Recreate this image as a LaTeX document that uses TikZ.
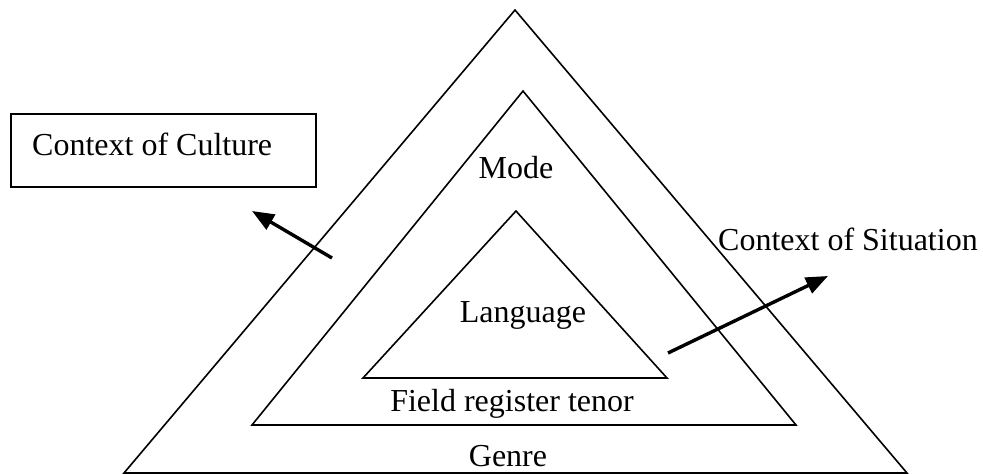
\documentclass[tikz,border=0pt]{standalone}
\usepackage{fontspec}
\setmainfont{Liberation Serif}
\usetikzlibrary{arrows.meta}
\begin{document}
\begin{tikzpicture}[x=1pt,y=-1pt,
  tri/.style={draw=black,line width=1.6pt,line join=miter},
  lbl/.style={inner sep=0pt,anchor=base,font=\fontsize{32}{38}\selectfont},
  bigarrow/.style={line width=3.4pt,-{Triangle[length=22pt,width=17pt]}},
  boxstyle/.style={draw=black,line width=1.6pt}]
\useasboundingbox (0,0) rectangle (983,474);
% outer triangle
\coordinate (oA) at (515,10);
\coordinate (oL) at (124,473);
\coordinate (oR) at (907,473);
\draw[tri] (oL) -- (oA) -- (oR) -- cycle;
% middle triangle
\coordinate (mA) at (523,91);
\coordinate (mL) at (252,425);
\coordinate (mR) at (796,425);
\draw[tri] (mL) -- (mA) -- (mR) -- cycle;
% inner triangle
\coordinate (iA) at (516,211);
\coordinate (iL) at (363,378);
\coordinate (iR) at (667,378);
\draw[tri] (iL) -- (iA) -- (iR) -- cycle;
% box
\node[boxstyle,minimum width=305pt,minimum height=73pt,inner sep=0pt] (cultbox) at (163.5,150.5) {};
\node[lbl,anchor=base west] (culture) at (32,155) {Context of Culture};
% labels
\node[lbl] (mode) at (516,178) {Mode};
\node[lbl] (lang) at (523,322) {Language};
\node[lbl] (field) at (512,411) {Field register tenor};
\node[lbl] (genre) at (508,466) {Genre};
\node[lbl,anchor=base west] (situation) at (718,250) {Context of Situation};
% arrows
\coordinate (a1s) at (332,258);
\coordinate (a1e) at (252,211);
\draw[bigarrow] (a1s) -- (a1e);
\coordinate (a2s) at (668,353);
\coordinate (a2e) at (828,276);
\draw[bigarrow] (a2s) -- (a2e);
\end{tikzpicture}
\end{document}
